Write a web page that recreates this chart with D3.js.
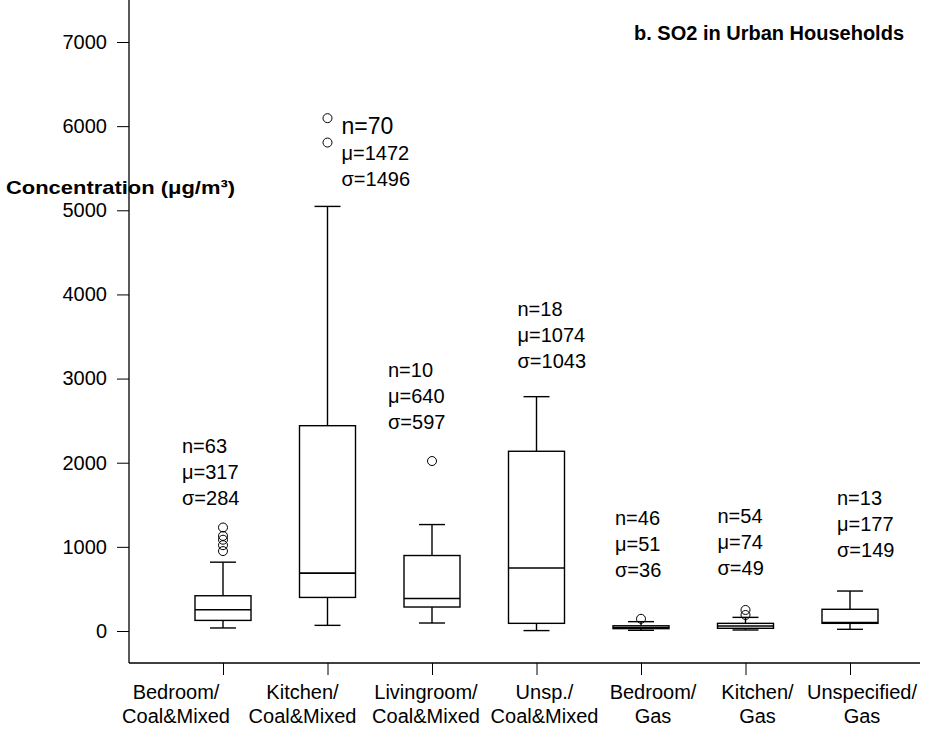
<!DOCTYPE html>
<html>
<head>
<meta charset="utf-8">
<script src="https://cdn.jsdelivr.net/npm/d3@7"></script>
<style>
  body { margin: 0; background: #fff; }
  text { font-family: "Liberation Sans", Arial, sans-serif; fill: #000; }
</style>
</head>
<body>
<div id="chart"></div>
<script>
const categories = [
  ['Bedroom/', 'Coal&Mixed'],
  ['Kitchen/', 'Coal&Mixed'],
  ['Livingroom/', 'Coal&Mixed'],
  ['Unsp./', 'Coal&Mixed'],
  ['Bedroom/', 'Gas'],
  ['Kitchen/', 'Gas'],
  ['Unspecified/', 'Gas'],
]

// box statistics (µg/m³)
const whiskerLow = [36, 67, 95, 5, 8, 12, 20]
const q1 = [126, 399, 285, 91, 28, 32, 91]
const median = [253, 688, 387, 749, 42, 59, 99]
const q3 = [419, 2440, 897, 2136, 62, 91, 258]
const whiskerHigh = [818, 5046, 1265, 2785, 111, 162, 475]
const outliers = [
  [1230, 1130, 1085, 1020, 950],
  [6095, 5805],
  [2020],
  [],
  [145],
  [190, 250],
  [],
]

const nCount = [63, 70, 10, 18, 46, 54, 13]
const means = [317, 1472, 640, 1074, 51, 74, 177]
const sds = [284, 1496, 597, 1043, 36, 49, 149]

const yTicks = [0, 1000, 2000, 3000, 4000, 5000, 6000, 7000]

// where each n/µ/σ note sits: x shift from the box centre, baseline of first line
const notes = [
  { dx: -41, y: 453 },
  { dx: 14, y: 134 },
  { dx: -44, y: 377 },
  { dx: -19, y: 316 },
  { dx: -26, y: 525 },
  { dx: -28, y: 523 },
  { dx: -13, y: 505 },
]
// labels are wider than the category step, so they are nudged sideways
const labelShift = [-47, -25, -6, 8, 12, 12, 12]

const width = 930
const height = 731
const left = 129
const bottom = 663

const svg = d3.select('#chart').append('svg')
  .attr('width', width)
  .attr('height', height)

const y = d3.scaleLinear().domain([0, 7000]).range([631, 42])
const x = d3.scalePoint().domain(d3.range(categories.length)).range([223, 850])

const boxW = 56
const capW = 26

// axes
const yAxis = svg.append('g')
  .attr('transform', `translate(${left - 12},0)`)
  .call(d3.axisLeft(y).tickValues(yTicks).tickSize(0).tickPadding(10).tickFormat(d3.format('d')))
yAxis.select('.domain').remove()
yAxis.selectAll('text').attr('font-size', 20).attr('font-family', '"Liberation Sans", Arial, sans-serif')
svg.append('g')
  .attr('transform', `translate(${left},0)`)
  .call(d3.axisLeft(y).tickValues(yTicks).tickSize(12).tickFormat(''))
  .select('.domain').remove()

const xAxis = svg.append('g')
  .attr('transform', `translate(0,${bottom})`)
  .call(d3.axisBottom(x).tickSize(12).tickFormat(''))
xAxis.select('.domain').remove()

svg.selectAll('.tick line').attr('stroke', '#000').attr('stroke-width', 1)

svg.append('line')
  .attr('x1', left).attr('x2', left).attr('y1', 0).attr('y2', bottom)
  .attr('stroke', '#000').attr('stroke-width', 1.3)
svg.append('line')
  .attr('x1', left).attr('x2', 920).attr('y1', bottom).attr('y2', bottom)
  .attr('stroke', '#000').attr('stroke-width', 1.3)

// category labels
const labels = svg.append('g').selectAll('text')
  .data(categories)
  .join('text')
  .attr('text-anchor', 'middle')
  .attr('font-size', 20)
labels.selectAll('tspan')
  .data((d, i) => d.map(t => ({ t, i })))
  .join('tspan')
  .attr('x', d => x(d.i) + labelShift[d.i])
  .attr('y', (d, j) => 699 + j * 24)
  .text(d => d.t)

// boxes
const g = svg.append('g')
const idx = d3.range(categories.length)

g.selectAll('.whisker')
  .data(idx)
  .join('line')
  .attr('class', 'whisker')
  .attr('x1', i => x(i)).attr('x2', i => x(i))
  .attr('y1', i => y(whiskerLow[i])).attr('y2', i => y(whiskerHigh[i]))
  .attr('stroke', '#000').attr('stroke-width', 1.4)

g.selectAll('.capLow')
  .data(idx)
  .join('line')
  .attr('class', 'capLow')
  .attr('x1', i => x(i) - capW / 2).attr('x2', i => x(i) + capW / 2)
  .attr('y1', i => y(whiskerLow[i])).attr('y2', i => y(whiskerLow[i]))
  .attr('stroke', '#000').attr('stroke-width', 1.4)

g.selectAll('.capHigh')
  .data(idx)
  .join('line')
  .attr('class', 'capHigh')
  .attr('x1', i => x(i) - capW / 2).attr('x2', i => x(i) + capW / 2)
  .attr('y1', i => y(whiskerHigh[i])).attr('y2', i => y(whiskerHigh[i]))
  .attr('stroke', '#000').attr('stroke-width', 1.4)

g.selectAll('.box')
  .data(idx)
  .join('rect')
  .attr('class', 'box')
  .attr('x', i => x(i) - boxW / 2)
  .attr('width', boxW)
  .attr('y', i => y(q3[i]))
  .attr('height', i => y(q1[i]) - y(q3[i]))
  .attr('fill', '#fff')
  .attr('stroke', '#000').attr('stroke-width', 1.4)

g.selectAll('.median')
  .data(idx)
  .join('line')
  .attr('class', 'median')
  .attr('x1', i => x(i) - boxW / 2).attr('x2', i => x(i) + boxW / 2)
  .attr('y1', i => y(median[i])).attr('y2', i => y(median[i]))
  .attr('stroke', '#000').attr('stroke-width', 1.6)

g.selectAll('.outlier')
  .data(outliers.flatMap((vals, i) => vals.map(v => ({ i, v }))))
  .join('circle')
  .attr('class', 'outlier')
  .attr('cx', d => x(d.i))
  .attr('cy', d => y(d.v))
  .attr('r', 4.5)
  .attr('fill', 'none')
  .attr('stroke', '#000').attr('stroke-width', 1)

// n / µ / σ notes
const noteG = svg.append('g')
idx.forEach(i => {
  const lines = [`n=${nCount[i]}`, `μ=${means[i]}`, `σ=${sds[i]}`]
  noteG.append('text')
    .attr('font-size', 20)
    .selectAll('tspan')
    .data(lines)
    .join('tspan')
    .attr('x', x(i) + notes[i].dx)
    .attr('y', (d, j) => notes[i].y + j * 26)
    .attr('font-size', (d, j) => (i === 1 && j === 0 ? 23 : 20))
    .text(d => d)
})

svg.append('text')
  .attr('x', 6).attr('y', 194)
  .attr('font-size', 19).attr('font-weight', 'bold')
  .attr('textLength', 229).attr('lengthAdjust', 'spacingAndGlyphs')
  .text('Concentration (μg/m³)')

svg.append('text')
  .attr('x', 904).attr('y', 40)
  .attr('text-anchor', 'end')
  .attr('font-size', 20).attr('font-weight', 'bold')
  .text('b. SO2 in Urban Households')
</script>
</body>
</html>
